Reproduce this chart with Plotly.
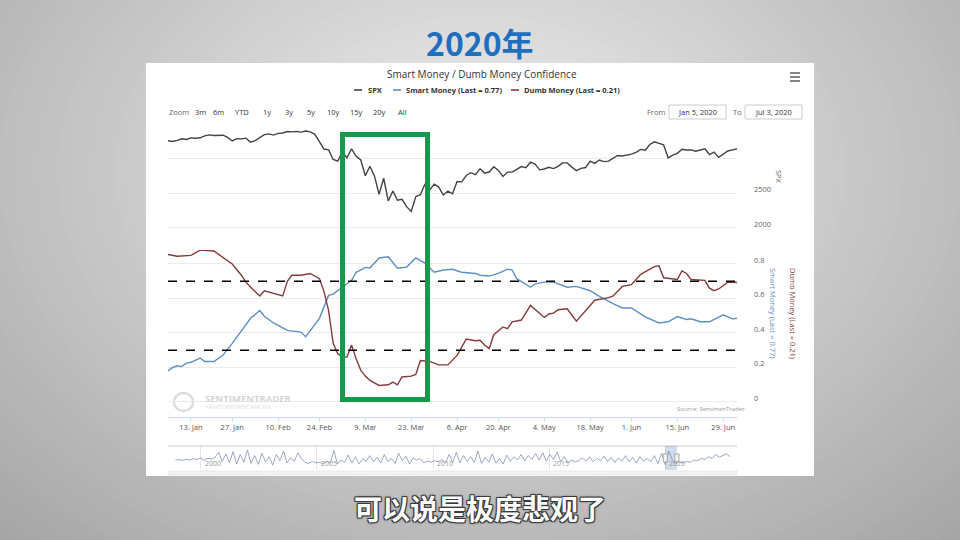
import numpy as np
import pandas as pd
import plotly.graph_objects as go

# ---------------- data ----------------
holidays = ["2020-01-20", "2020-02-17", "2020-04-10", "2020-05-25"]
trade_days = [d for d in pd.bdate_range("2020-01-06", "2020-07-02").strftime("%Y-%m-%d")
              if d not in holidays]

spx = [3246, 3237, 3253, 3275, 3265, 3288, 3283, 3289, 3317, 3330, 3321, 3321, 3326, 3295, 3244, 3276, 3273, 3284, 3226,
       3249, 3298, 3334, 3345, 3328, 3352, 3358, 3379, 3374, 3380, 3370, 3386, 3373, 3338, 3226, 3128, 3116, 2979, 2954,
       3090, 3003, 3130, 3024, 2972, 2747, 2882, 2741, 2481, 2711, 2386, 2529, 2398, 2409, 2305, 2237, 2447, 2476, 2630,
       2541, 2627, 2585,
       2471, 2527, 2489, 2664, 2659, 2750, 2790, 2762, 2846, 2784, 2800, 2875, 2823, 2737, 2799, 2798, 2837, 2878, 2863,
       2940, 2912,
       2831, 2843, 2868, 2849, 2882, 2930, 2930, 2870, 2820, 2852, 2864, 2954, 2923, 2972, 2949, 2955, 2992, 3036, 3030,
       3044,
       3056, 3081, 3123, 3112, 3194, 3232, 3207, 3190, 3002, 3041, 3067, 3125, 3114, 3116, 3098, 3118, 3131, 3050, 3084,
       3009, 3053, 3100,
       3116, 3130]

smart_dates = ["2020-01-06", "2020-01-07", "2020-01-08", "2020-01-09", "2020-01-10", "2020-01-13", "2020-01-15",
               "2020-01-16", "2020-01-21", "2020-01-23", "2020-01-27", "2020-01-29", "2020-01-31", "2020-02-04",
               "2020-02-05", "2020-02-07", "2020-02-12", "2020-02-18", "2020-02-19", "2020-02-24", "2020-02-26",
               "2020-02-27", "2020-03-02", "2020-03-04", "2020-03-05", "2020-03-09", "2020-03-10", "2020-03-12",
               "2020-03-16", "2020-03-18", "2020-03-20", "2020-03-24", "2020-03-26", "2020-03-30", "2020-04-01",
               "2020-04-03", "2020-04-07", "2020-04-13", "2020-04-14", "2020-04-16", "2020-04-20", "2020-04-22",
               "2020-04-23", "2020-04-24", "2020-04-29", "2020-04-30", "2020-05-04", "2020-05-06", "2020-05-11",
               "2020-05-13", "2020-05-18", "2020-05-20", "2020-05-26", "2020-05-28", "2020-06-01", "2020-06-04",
               "2020-06-09", "2020-06-11", "2020-06-15", "2020-06-17", "2020-06-18", "2020-06-22", "2020-06-24",
               "2020-06-29", "2020-07-01", "2020-07-02"]
smart = [0.18, 0.20, 0.21, 0.205, 0.225, 0.23, 0.255, 0.235, 0.235, 0.272, 0.34, 0.415, 0.485, 0.53,
         0.497, 0.458, 0.415, 0.405, 0.378, 0.485, 0.618, 0.625, 0.665, 0.705, 0.752, 0.78, 0.777, 0.835,
         0.842, 0.775, 0.782, 0.835, 0.805, 0.752, 0.765, 0.769, 0.752, 0.745, 0.735, 0.73, 0.745, 0.77,
         0.765, 0.715, 0.665, 0.685, 0.695, 0.695, 0.665, 0.67, 0.645, 0.612, 0.57, 0.545, 0.545, 0.493,
         0.458, 0.465, 0.495, 0.478, 0.482, 0.465, 0.465, 0.505, 0.482, 0.485]

dumb_dates = ["2020-01-06", "2020-01-08", "2020-01-13", "2020-01-15", "2020-01-21", "2020-01-23", "2020-01-27",
              "2020-01-29", "2020-01-30", "2020-01-31", "2020-02-04", "2020-02-05", "2020-02-10", "2020-02-11",
              "2020-02-12", "2020-02-13", "2020-02-18", "2020-02-20", "2020-02-24", "2020-02-25", "2020-02-26",
              "2020-02-27", "2020-02-28", "2020-03-02", "2020-03-03", "2020-03-04", "2020-03-05", "2020-03-06",
              "2020-03-09", "2020-03-10", "2020-03-12", "2020-03-16", "2020-03-17", "2020-03-18", "2020-03-19",
              "2020-03-23", "2020-03-24", "2020-03-25", "2020-03-27", "2020-03-31", "2020-04-02", "2020-04-06",
              "2020-04-08", "2020-04-13", "2020-04-14", "2020-04-15", "2020-04-16", "2020-04-17", "2020-04-21",
              "2020-04-22", "2020-04-23", "2020-04-27", "2020-04-29", "2020-05-04", "2020-05-05", "2020-05-06",
              "2020-05-07", "2020-05-11", "2020-05-13", "2020-05-19", "2020-05-22", "2020-05-26", "2020-05-28",
              "2020-06-01", "2020-06-03", "2020-06-04", "2020-06-08", "2020-06-09", "2020-06-10", "2020-06-15",
              "2020-06-16", "2020-06-17", "2020-06-18", "2020-06-23", "2020-06-24", "2020-06-25", "2020-06-26",
              "2020-06-30", "2020-07-02"]
dumb = [0.855, 0.845, 0.85, 0.88, 0.875, 0.84, 0.80, 0.735, 0.695, 0.665, 0.615, 0.645, 0.62, 0.615,
        0.70, 0.735, 0.735, 0.745, 0.715, 0.64, 0.53, 0.34, 0.28, 0.26, 0.26, 0.33, 0.25, 0.185,
        0.15, 0.125, 0.096, 0.10, 0.115, 0.10, 0.145, 0.15, 0.16, 0.24, 0.235, 0.215, 0.215, 0.27,
        0.365, 0.355, 0.358, 0.33, 0.31, 0.39, 0.435, 0.425, 0.465, 0.475, 0.56, 0.49, 0.51, 0.515,
        0.535, 0.54, 0.468, 0.59, 0.605, 0.615, 0.67, 0.68, 0.74, 0.755, 0.785, 0.79, 0.72, 0.71,
        0.76, 0.745, 0.71, 0.705, 0.66, 0.645, 0.655, 0.695, 0.693]

levels = [0.7, 0.3]

tick_dates = ["2020-01-13", "2020-01-27", "2020-02-10", "2020-02-24", "2020-03-09", "2020-03-23", "2020-04-06",
              "2020-04-20", "2020-05-04", "2020-05-18", "2020-06-01", "2020-06-15", "2020-06-29"]
tick_text = ["13. Jan", "27. Jan", "10. Feb", "24. Feb", "9. Mar", "23. Mar", "6. Apr",
             "20. Apr", "4. May", "18. May", "1. Jun", "15. Jun", "29. Jun"]

# navigator (long history, 1999 .. 2022)
nav_vals = [0.50, 0.52, 0.49, 0.53, 0.50, 0.55, 0.52, 0.58, 0.50, 0.56, 0.54, 0.60,
            0.78, 0.45, 0.72, 0.40, 0.80, 0.36, 0.70, 0.42, 0.86, 0.38, 0.66, 0.35, 0.74, 0.44, 0.62, 0.32,
            0.70, 0.48, 0.82, 0.40, 0.58, 0.45, 0.76, 0.55, 0.42, 0.38, 0.45, 0.40,
            0.42, 0.38, 0.46, 0.40, 0.84, 0.36, 0.50, 0.42, 0.68, 0.40, 0.62, 0.36, 0.55, 0.46,
            0.66, 0.44, 0.60, 0.40, 0.70, 0.45, 0.56, 0.38, 0.74, 0.48, 0.64, 0.36, 0.58, 0.50,
            0.55, 0.40, 0.46, 0.43, 0.48, 0.44, 0.52, 0.40, 0.70, 0.42, 0.78, 0.40, 0.66, 0.46,
            0.62, 0.42, 0.82, 0.38, 0.60, 0.44, 0.72, 0.40, 0.56, 0.36, 0.68, 0.46, 0.62, 0.50,
            0.70, 0.48, 0.66, 0.52, 0.74, 0.50, 0.76, 0.46, 0.70, 0.52, 0.78, 0.44, 0.62, 0.40,
            0.50, 0.44, 0.48, 0.58, 0.46, 0.62, 0.44, 0.56, 0.48, 0.64, 0.45, 0.60, 0.42, 0.58,
            0.46, 0.66, 0.44, 0.60, 0.40, 0.62, 0.46, 0.56, 0.44, 0.66, 0.38, 0.74, 0.34, 0.82,
            0.50, 0.38, 0.44, 0.40, 0.46, 0.42, 0.50, 0.48, 0.56, 0.52, 0.62, 0.56, 0.70, 0.60,
            0.66, 0.72, 0.62]
nav_years = np.linspace(1998.9, 2022.8, len(nav_vals))
nav_ticks = [2000, 2005, 2010, 2015, 2020]

zoom_buttons = ["3m", "6m", "YTD", "1y", "3y", "5y", "10y", "15y", "20y", "All"]
zoom_button_x = [200, 218, 242, 267, 289, 311, 333, 356, 379, 402]

SPX_C = "#434343"
SMART_C = "#5f8fc4"
DUMB_C = "#873a3a"
FONT = "Open Sans"


def px(x):
    return x / 960


def py(y):
    return 1 - y / 540


fig = go.Figure()
fig.add_trace(go.Scatter(x=trade_days, y=spx, mode="lines", line=dict(color=SPX_C, width=1.4),
                         xaxis="x", yaxis="y", hoverinfo="skip"))
fig.add_trace(go.Scatter(x=smart_dates, y=smart, mode="lines", line=dict(color=SMART_C, width=1.4),
                         xaxis="x", yaxis="y2", hoverinfo="skip"))
fig.add_trace(go.Scatter(x=dumb_dates, y=dumb, mode="lines", line=dict(color=DUMB_C, width=1.4),
                         xaxis="x", yaxis="y2", hoverinfo="skip"))
fig.add_trace(go.Scatter(x=nav_years, y=nav_vals, mode="lines", line=dict(color="#8392b3", width=0.8),
                         xaxis="x3", yaxis="y3", hoverinfo="skip"))

shapes = []
# grey radial backdrop of the video frame
for r in np.linspace(840, 40, 70):
    g = int(round(240 - 0.105 * r))
    shapes.append(dict(type="circle", xref="paper", yref="paper", layer="below",
                       x0=px(480 - r), x1=px(480 + r), y0=py(170 + 0.72 * r), y1=py(170 - 0.72 * r),
                       fillcolor=f"rgb({g},{g},{g})", line=dict(width=0)))
# white chart card
shapes.append(dict(type="rect", xref="paper", yref="paper", layer="below",
                   x0=px(146), x1=px(814), y0=py(476), y1=py(63),
                   fillcolor="white", line=dict(width=0)))
# dashed threshold lines
for lv in levels:
    shapes.append(dict(type="line", xref="x domain", yref="y2", x0=0, x1=1, y0=lv, y1=lv,
                       line=dict(color="black", width=1.3, dash="dash")))
# hamburger menu
for yy in [73, 77, 81]:
    shapes.append(dict(type="line", xref="paper", yref="paper", x0=px(790), x1=px(800),
                       y0=py(yy), y1=py(yy), line=dict(color="#666", width=1.6)))
# legend symbols
for x0, c in [(354, SPX_C), (393, SMART_C), (511, DUMB_C)]:
    shapes.append(dict(type="line", xref="paper", yref="paper", x0=px(x0), x1=px(x0 + 8),
                       y0=py(90), y1=py(90), line=dict(color=c, width=1.6)))
# date input boxes
for x0, x1 in [(669, 726), (745, 802)]:
    shapes.append(dict(type="rect", xref="paper", yref="paper", x0=px(x0), x1=px(x1),
                       y0=py(119), y1=py(105), line=dict(color="#cccccc", width=1)))
# watermark logo
shapes.append(dict(type="circle", xref="paper", yref="paper", layer="below",
                   x0=px(174), x1=px(193), y0=py(411), y1=py(393),
                   line=dict(color="#dddddd", width=2.5)))
# navigator frame, selection and scrollbar
shapes.append(dict(type="line", xref="paper", yref="paper", x0=px(168), x1=px(737),
                   y0=py(446), y1=py(446), line=dict(color="#cccccc", width=1)))
shapes.append(dict(type="rect", xref="x3", yref="paper", x0=2020.01, x1=2020.51,
                   y0=py(470), y1=py(446), fillcolor="rgba(102,133,194,0.3)", line=dict(width=0)))
for hx in [2020.01, 2020.51]:
    shapes.append(dict(type="rect", xref="x3", yref="paper", x0=hx - 0.09, x1=hx + 0.09,
                       y0=py(462), y1=py(454), fillcolor="#f2f2f2", line=dict(color="#999", width=0.8)))
shapes.append(dict(type="rect", xref="paper", yref="paper", x0=px(168), x1=px(737),
                   y0=py(475), y1=py(471), fillcolor="#f2f2f2", line=dict(color="#e0e0e0", width=0.6)))
# green highlight box drawn over the crash
shapes.append(dict(type="rect", xref="paper", yref="paper", layer="above",
                   x0=px(342.5), x1=px(427.5), y0=py(399.5), y1=py(134.5),
                   line=dict(color="#17994c", width=5)))

ann = []


def txt(x, y, s, size=8, color="#333", anchor="center", **kw):
    ann.append(dict(xref="paper", yref="paper", x=px(x), y=py(y), text=s, showarrow=False,
                    xanchor=anchor, yanchor="middle",
                    font=dict(family=kw.pop("family", FONT), size=size, color=color, **kw.pop("font", {})),
                    **kw))


txt(480, 42, "2020年", size=32, color="#1f6fbf", family="Noto Sans CJK SC", font=dict(weight="bold"))
txt(480, 508, "可以说是极度悲观了", size=28, color="white", family="Noto Sans CJK SC",
    font=dict(weight="bold", shadow="1px 1px 0 #3a3a3a, -1px -1px 0 #3a3a3a, 1px -1px 0 #3a3a3a, "
                                    "-1px 1px 0 #3a3a3a, 0 0 3px #222"))
txt(482, 74, "Smart Money / Dumb Money Confidence", size=10, color="#333")
txt(366, 90, "SPX", size=7.5, color="#333", anchor="left", font=dict(weight="bold"))
txt(404, 90, "Smart Money (Last = 0.77)", size=7.5, color="#333", anchor="left", font=dict(weight="bold"))
txt(522, 90, "Dumb Money (Last = 0.21)", size=7.5, color="#333", anchor="left", font=dict(weight="bold"))
txt(167, 112, "Zoom", size=7.5, color="#666", anchor="left")
for b, bx in zip(zoom_buttons, zoom_button_x):
    txt(bx, 112, b, size=7.5, color="#333")
txt(656, 112, "From", size=7.5, color="#666")
txt(697.5, 112, "Jan 5, 2020", size=7.5, color="#333")
txt(737, 112, "To", size=7.5, color="#666")
txt(773.5, 112, "Jul 3, 2020", size=7.5, color="#333")
txt(779, 177, "SPX", size=7.5, color="#666", textangle=90)
txt(773, 313, "Smart Money (Last = 0.77)", size=7.5, color=SMART_C, textangle=90)
txt(793, 313, "Dumb Money (Last = 0.21)", size=7.5, color=DUMB_C, textangle=90)
txt(203, 398, "SENTIMENTRADER", size=9.5, color="#d6d6d6", anchor="left", font=dict(weight="bold"))
txt(204, 406.5, "MARKET SENTIMENT ANALYSIS", size=4.5, color="#dddddd", anchor="left")
txt(747, 409, "Source: SentimenTrader", size=6, color="#999", anchor="right")
for t in nav_ticks:
    ann.append(dict(xref="x3", yref="paper", x=t + 0.1, y=py(463), text=str(t), showarrow=False,
                    xanchor="left", yanchor="middle", font=dict(family=FONT, size=7, color="#999")))

fig.update_layout(
    width=960, height=540, margin=dict(l=0, r=0, t=0, b=0),
    paper_bgcolor="#9e9e9e", plot_bgcolor="rgba(0,0,0,0)",
    showlegend=False, shapes=shapes, annotations=ann,
    font=dict(family=FONT, size=8, color="#666"),
    xaxis=dict(domain=[px(168), px(737)], anchor="y2", type="date",
               range=["2020-01-06", "2020-07-02"],
               rangebreaks=[dict(bounds=["sat", "mon"]), dict(values=holidays)],
               tickvals=tick_dates, ticktext=tick_text, showgrid=False,
               showline=True, linecolor="#ccd6eb", linewidth=1,
               ticks="outside", ticklen=3, tickcolor="#ccd6eb",
               tickfont=dict(size=7.5, color="#555"), zeroline=False),
    yaxis=dict(domain=[py(238), py(128)], anchor="x", side="right", range=[1857, 3429],
               tickvals=[2000, 2500, 3000], ticktext=["2000", "2500", ""],
               gridcolor="#ececec", gridwidth=1, zeroline=False, ticks="",
               ticklabelstandoff=16, ticklabelshift=-4, tickfont=dict(size=7.5, color="#666")),
    yaxis2=dict(domain=[py(417), py(250)], anchor="x", side="right", range=[-0.087, 0.881],
                tickvals=[0, 0.2, 0.4, 0.6, 0.8], ticktext=["0", "0.2", "0.4", "0.6", "0.8"],
                gridcolor="#ececec", gridwidth=1, zeroline=False, ticks="",
                ticklabelstandoff=16, ticklabelshift=-4, tickfont=dict(size=7.5, color="#666")),
    xaxis3=dict(domain=[px(168), px(737)], anchor="y3", range=[1998.58, 2023.1],
                tickvals=nav_ticks, showticklabels=False, showgrid=True, gridcolor="#e6e6e6",
                zeroline=False, showline=False),
    yaxis3=dict(domain=[py(470), py(446)], anchor="x3", range=[0.15, 1.0], visible=False),
)

fig.write_html("out.html", config={"displayModeBar": False},
               post_script="document.body.style.margin='0';")
